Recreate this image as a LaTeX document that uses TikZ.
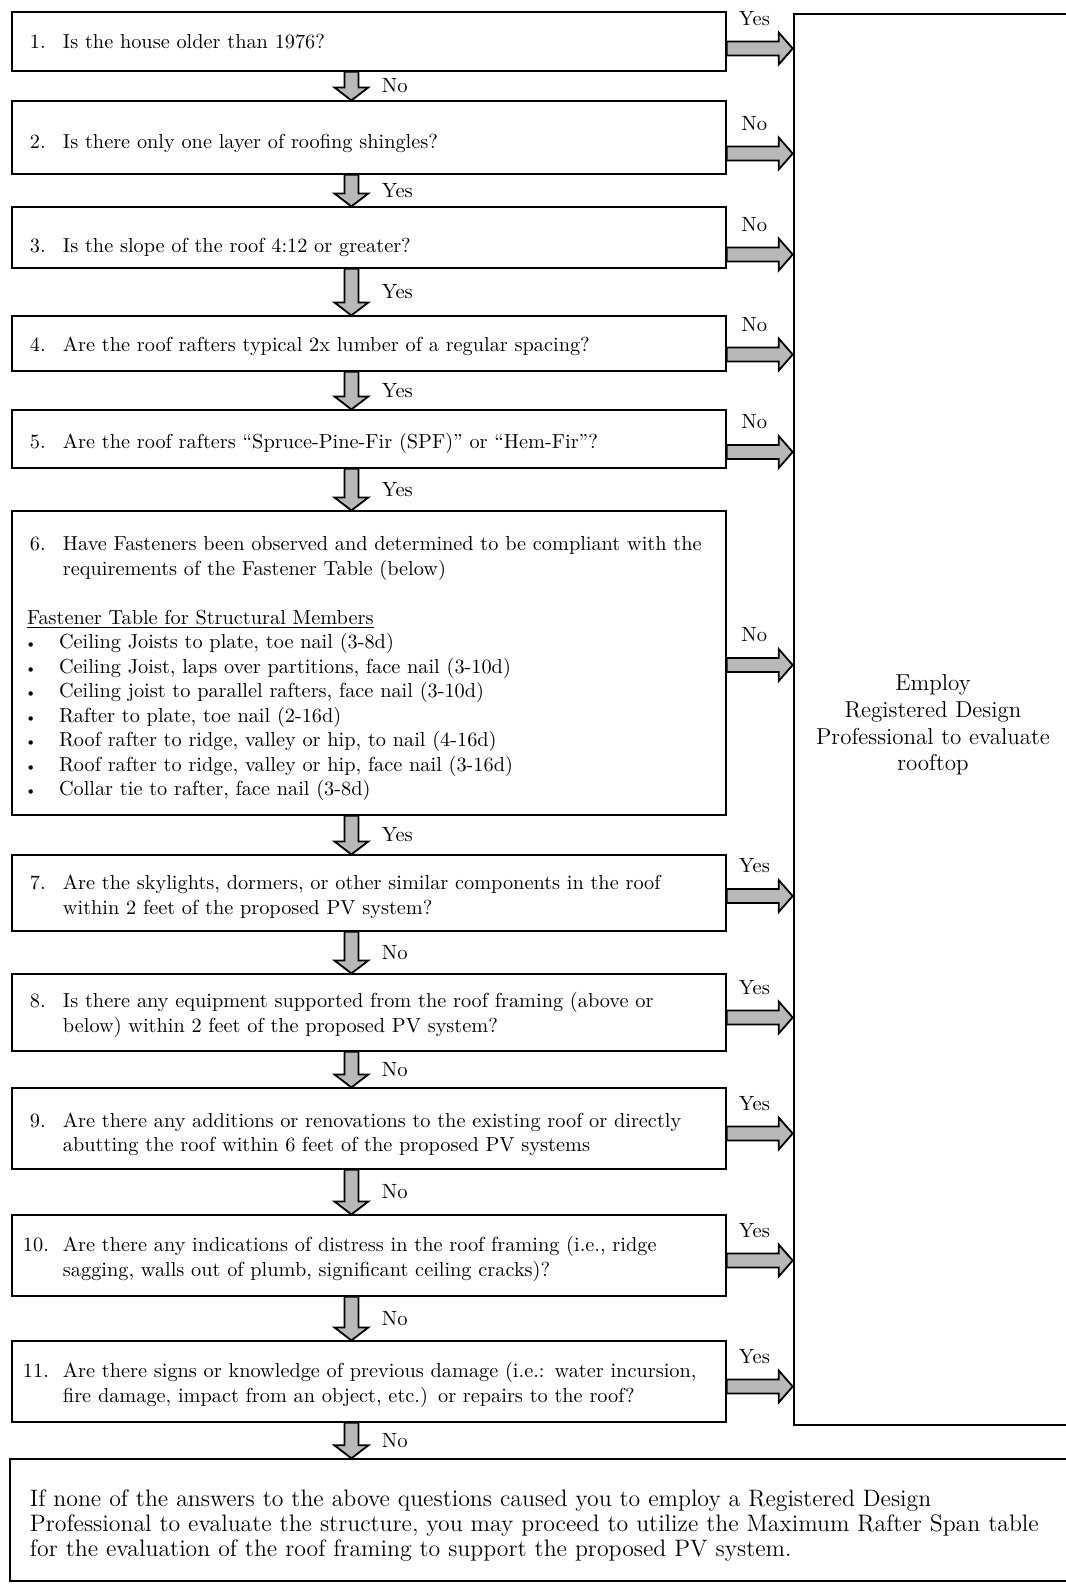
\documentclass[tikz,border=0pt]{standalone}
\usepackage{fontspec}
\usetikzlibrary{calc}
\tikzset{
 qbox/.style={draw, line width=0.6pt, text width=339pt, inner xsep=9pt, inner ysep=2pt, align=left, font=\fontsize{10.15}{12.25}\selectfont},
 fatarrow/.style={draw=black, line width=0.9pt, fill=black!28, line join=miter},
 lbl/.style={font=\fontsize{10.3}{12}\selectfont, inner sep=1pt},
 bigbox/.style={draw, line width=1.3pt, text width=135pt, inner xsep=2pt, minimum height=705.5pt, align=center, text height=13.5pt, font=\fontsize{11.5}{13.4}\selectfont},
 endbox/.style={draw, line width=0.7pt, minimum width=540pt, minimum height=61pt, text width=520pt, inner xsep=10pt, align=left, text height=14pt, font=\fontsize{11.9}{12.65}\selectfont},
}
\newcommand\qn[1]{\makebox[16.5pt][l]{#1}}
\newcommand\qnn[1]{\hspace*{-3.5pt}\makebox[20pt][l]{#1}}
\newcommand\qi{\hspace*{16.5pt}}
\newcommand\bul{\hspace*{-2.5pt}\makebox[17pt][l]{\scalebox{0.75}{\textbullet}}}
\newcommand\vfat[4]{%
  \path ($(#1.south west)+(340,0)$) coordinate (#4a) (#4a |- #2.north) coordinate (#4b);
  \draw[fatarrow] let \p1=(#4a), \p2=(#4b) in (\x1-3.5pt,\y1) -- (\x1+3.5pt,\y1) -- (\x1+3.5pt,\y2+6.5pt) -- (\x1+8.5pt,\y2+6.5pt) -- (\x1,\y2) -- (\x1-8.5pt,\y2+6.5pt) -- (\x1-3.5pt,\y2+6.5pt) -- cycle;
  \node[lbl, anchor=west] (#4) at ($(#4a)!0.5!(#4b)+(28,0)$) {#3};
}
\newcommand\hfat[4]{%
  \path ($(#1.east)+(0,#2)$) coordinate (#4a) (#4a -| big.west) coordinate (#4b);
  \draw[fatarrow] let \p1=(#4a), \p2=(#4b) in (\x1,\y1+3.5pt) -- (\x2-7pt,\y1+3.5pt) -- (\x2-7pt,\y1+8pt) -- (\x2,\y1) -- (\x2-7pt,\y1-8pt) -- (\x2-7pt,\y1-3.5pt) -- (\x1,\y1-3.5pt) -- cycle;
  \node[lbl] (#4) at ($(#4a)!0.42!(#4b)+(0,-30)$) {#3};
}
\begin{document}
\begin{tikzpicture}[x=0.5pt,y=-0.5pt]
\useasboundingbox (0,0) rectangle (1066,1587);
\node[bigbox] (big) at (933,719.5) {Employ\\Registered Design\\Professional to evaluate\\rooftop};
\node[qbox, minimum height=29.5pt] (b1) at (369,41.5) {\qn{1.}Is the house older than 1976?};
\node[qbox, minimum height=36.5pt, text height=13pt] (b2) at (369,137.5) {\qn{2.}Is there only one layer of roofing shingles?};
\node[qbox, minimum height=30.5pt, text height=17pt] (b3) at (369,237.5) {\qn{3.}Is the slope of the roof 4:12 or greater?};
\node[qbox, minimum height=27.5pt, text height=10pt] (b4) at (369,343.5) {\qn{4.}Are the roof rafters typical 2x lumber of a regular spacing?};
\node[qbox, minimum height=29pt, text height=12pt] (b5) at (369,439) {\qn{5.}Are the roof rafters “Spruce-Pine-Fir (SPF)” or “Hem-Fir”?};
\node[qbox, minimum height=152pt, text height=13pt] (b6) at (369,663) {\qn{6.}Have Fasteners been observed and determined to be compliant with the\\
\qi requirements of the Fastener Table (below)\\
\mbox{}\\
\hspace*{-1.5pt}\underline{Fastener Table for Structural Members}\\
\bul Ceiling Joists to plate, toe nail (3-8d)\\
\bul Ceiling Joist, laps over partitions, face nail (3-10d)\\
\bul Ceiling joist to parallel rafters, face nail (3-10d)\\
\bul Rafter to plate, toe nail (2-16d)\\
\bul Roof rafter to ridge, valley or hip, to nail (4-16d)\\
\bul Roof rafter to ridge, valley or hip, face nail (3-16d)\\
\bul Collar tie to rafter, face nail (3-8d)};
\node[qbox, minimum height=38pt, text height=11pt] (b7) at (369,893) {\qn{7.}Are the skylights, dormers, or other similar components in the roof\\\qi within 2 feet of the proposed PV system?};
\node[qbox, minimum height=38.5pt, text height=10pt] (b8) at (369,1012.5) {\qn{8.}Is there any equipment supported from the roof framing (above or\\\qi below) within 2 feet of the proposed PV system?};
\node[qbox, minimum height=40.5pt, text height=13pt] (b9) at (369,1128.5) {\qn{9.}Are there any additions or renovations to the existing roof or directly\\\qi abutting the roof within 6 feet of the proposed PV systems};
\node[qbox, minimum height=40.5pt, text height=11pt] (b10) at (369,1255.5) {\qnn{10.}Are there any indications of distress in the roof framing (i.e., ridge\\\qi sagging, walls out of plumb, significant ceiling cracks)?};
\node[qbox, minimum height=40.5pt, text height=11pt] (b11) at (369,1381.5) {\qnn{11.}Are there signs or knowledge of previous damage (i.e.: water incursion,\\\qi fire damage, impact from an object, etc.) or repairs to the roof?};
\node[endbox] (fin) at (550,1520) {If none of the answers to the above questions caused you to employ a Registered Design\\
Professional to evaluate the structure, you may proceed to utilize the Maximum Rafter Span table\\
for the evaluation of the roof framing to support the proposed PV system.};
\vfat{b1}{b2}{No}{v1}
\vfat{b2}{b3}{Yes}{v2}
\vfat{b3}{b4}{Yes}{v3}
\vfat{b4}{b5}{Yes}{v4}
\vfat{b5}{b6}{Yes}{v5}
\vfat{b6}{b7}{Yes}{v6}
\vfat{b7}{b8}{No}{v7}
\vfat{b8}{b9}{No}{v8}
\vfat{b9}{b10}{No}{v9}
\vfat{b10}{b11}{No}{v10}
\vfat{b11}{fin}{No}{v11}
\hfat{b1}{7}{Yes}{h1}
\hfat{b2}{16}{No}{h2}
\hfat{b3}{17}{No}{h3}
\hfat{b4}{11}{No}{h4}
\hfat{b5}{13}{No}{h5}
\hfat{b6}{2}{No}{h6}
\hfat{b7}{3}{Yes}{h7}
\hfat{b8}{5}{Yes}{h8}
\hfat{b9}{5}{Yes}{h9}
\hfat{b10}{5}{Yes}{h10}
\hfat{b11}{5}{Yes}{h11}
\end{tikzpicture}
\end{document}
